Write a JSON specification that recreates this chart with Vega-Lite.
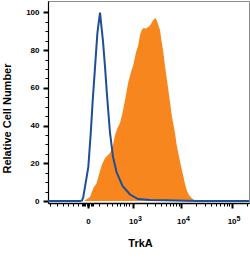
{
  "$schema": "https://vega.github.io/schema/vega-lite/v6.json",
  "width": 201,
  "height": 202,
  "autosize": "none",
  "padding": {"left": 48, "top": 1, "right": 1, "bottom": 63},
  "background": "white",
  "config": {
    "view": {"stroke": "#8c8c8c", "strokeWidth": 1},
    "axis": {
      "labelFont": "Liberation Sans",
      "titleFont": "Liberation Sans",
      "domainColor": "black",
      "tickColor": "black",
      "labelColor": "black",
      "titleColor": "black",
      "grid": false
    }
  },
  "datasets": {
    "stained": [
      {"x": -30, "count": 0}, {"x": -7, "count": 1.1}, {"x": 14, "count": 2.2}, {"x": 41, "count": 7.0},
      {"x": 72, "count": 9.6}, {"x": 89, "count": 12.8}, {"x": 129, "count": 19.1}, {"x": 174, "count": 22.8},
      {"x": 221, "count": 24.4}, {"x": 256, "count": 25.5}, {"x": 315, "count": 29.7}, {"x": 359, "count": 35.0},
      {"x": 420, "count": 38.7}, {"x": 489, "count": 41.4}, {"x": 565, "count": 46.7}, {"x": 651, "count": 53.5},
      {"x": 780, "count": 63.1}, {"x": 901, "count": 68.4}, {"x": 1016, "count": 72.1}, {"x": 1168, "count": 78.9},
      {"x": 1312, "count": 82.7}, {"x": 1429, "count": 88.0}, {"x": 1556, "count": 90.6}, {"x": 1700, "count": 91.7},
      {"x": 1922, "count": 91.4}, {"x": 2150, "count": 92.2}, {"x": 2334, "count": 93.0}, {"x": 2568, "count": 94.8},
      {"x": 2733, "count": 95.9}, {"x": 3036, "count": 97.0}, {"x": 3260, "count": 95.4}, {"x": 3465, "count": 93.3},
      {"x": 3753, "count": 90.6}, {"x": 4065, "count": 84.3}, {"x": 4384, "count": 79.0}, {"x": 4748, "count": 71.6},
      {"x": 5209, "count": 64.2}, {"x": 5991, "count": 52.5}, {"x": 6576, "count": 44.6}, {"x": 7556, "count": 36.1},
      {"x": 8163, "count": 29.7}, {"x": 8790, "count": 25.5}, {"x": 9961, "count": 18.6}, {"x": 11060, "count": 13.3},
      {"x": 11960, "count": 9.1}, {"x": 12930, "count": 5.9}, {"x": 14350, "count": 3.2}, {"x": 16240, "count": 1.7},
      {"x": 18060, "count": 0.6}, {"x": 20690, "count": 0}
    ],
    "isotype": [
      {"x": -770, "count": 0}, {"x": -65, "count": 0}, {"x": -47, "count": 0.3}, {"x": -36, "count": 2.2},
      {"x": -16, "count": 10.1}, {"x": 2, "count": 18.1}, {"x": 19.5, "count": 36.1}, {"x": 35.6, "count": 53.5},
      {"x": 56, "count": 71.0}, {"x": 79, "count": 89.0}, {"x": 108, "count": 99.8}, {"x": 146, "count": 84.3},
      {"x": 174, "count": 71.0}, {"x": 204, "count": 56.2}, {"x": 256, "count": 36.1}, {"x": 315, "count": 23.4},
      {"x": 395, "count": 15.4}, {"x": 565, "count": 8.0}, {"x": 854, "count": 3.5}, {"x": 1292, "count": 1.1},
      {"x": 2334, "count": 0.6}, {"x": 4748, "count": 0.4}, {"x": 11960, "count": 0.2}, {"x": 23730, "count": 0.05},
      {"x": 220000, "count": 0}
    ]
  },
  "layer": [
    {
      "data": {"name": "stained"},
      "mark": {"type": "area", "color": "#F7861E", "interpolate": "linear"},
      "encoding": {
        "x": {
          "field": "x", "type": "quantitative",
          "scale": {"type": "symlog", "constant": 150, "domain": [-770, 220000], "nice": false, "zero": false},
          "axis": {
            "orient": "bottom",
            "values": [0, 1000, 10000, 100000],
            "labelExpr": "datum.value === 0 ? '0' : '10'",
            "labelFontSize": 8, "labelFontWeight": "bold", "labelPadding": 9,
            "labelFlush": false, "labelOverlap": false,
            "tickSize": 5, "tickWidth": 2, "domainWidth": 1.5,
            "title": "TrkA", "titleFontSize": 11, "titleFontWeight": "bold",
            "titleX": 92, "titleY": 43, "titleBaseline": "alphabetic", "titleAlign": "center"
          }
        },
        "y": {
          "field": "count", "type": "quantitative",
          "scale": {"domain": [-1, 106], "nice": false, "zero": false},
          "axis": {
            "orient": "left",
            "values": [0, 20, 40, 60, 80, 100],
            "labelFontSize": 8, "labelFontWeight": "bold", "labelPadding": 4,
            "tickSize": 5, "tickWidth": 2, "domainWidth": 1.2,
            "title": "Relative Cell Number", "titleFontSize": 11, "titleFontWeight": "bold",
            "titleX": -37.5, "titleY": 117, "titleBaseline": "alphabetic", "titleAlign": "center"
          }
        }
      }
    },
    {
      "data": {"name": "isotype"},
      "mark": {"type": "line", "color": "#1D4E96", "strokeWidth": 2, "interpolate": "linear"},
      "encoding": {
        "x": {
          "field": "x", "type": "quantitative",
          "axis": {
            "orient": "bottom",
            "values": [-700, -470, -320, -220, -140, -90, -50, -40, -30, -20, -10, 10, 20, 30, 40, 100, 200, 300, 400, 500, 600, 700, 800, 1000, 2000, 3000, 4000, 5000, 6000, 7000, 8000, 9000, 10000, 20000, 30000, 40000, 50000, 60000, 70000, 80000, 90000, 100000, 200000],
            "labelExpr": "datum.value === 1000 ? '3' : datum.value === 10000 ? '4' : datum.value === 100000 ? '5' : ''",
            "labelFontSize": 7, "labelFontWeight": "bold", "labelPadding": 8,
            "labelAlign": "left", "labelOffset": 4.5, "labelFlush": false, "labelOverlap": false,
            "domain": false, "tickSize": 3, "tickWidth": 1, "title": null
          }
        },
        "y": {
          "field": "count", "type": "quantitative",
          "axis": {
            "orient": "left",
            "values": [5, 10, 15, 25, 30, 35, 45, 50, 55, 65, 70, 75, 85, 90, 95],
            "labels": false, "domain": false, "tickSize": 3, "tickWidth": 1, "title": null
          }
        }
      }
    }
  ],
  "resolve": {"axis": {"x": "independent", "y": "independent"}}
}
